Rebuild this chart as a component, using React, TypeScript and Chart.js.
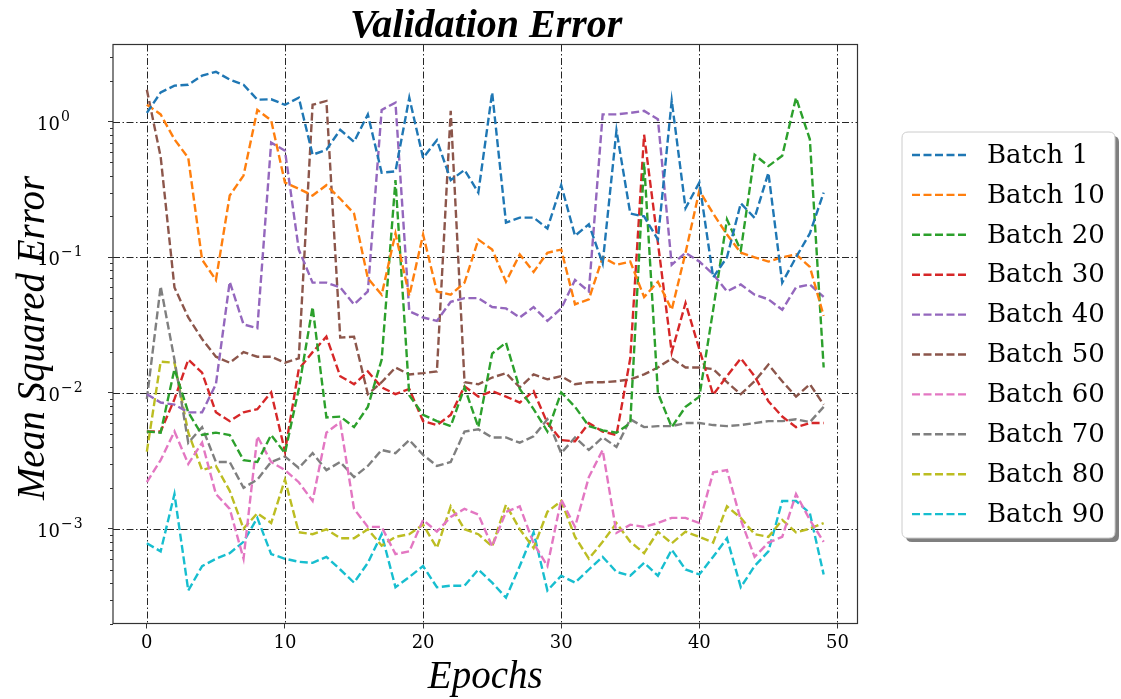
import React, { useEffect, useRef } from 'react';
import { Chart, registerables } from 'chart.js';

Chart.register(...registerables);

const epochs = [0,1,2,3,4,5,6,7,8,9,10,11,12,13,14,15,16,17,18,19,20,21,22,23,24,25,26,27,28,29,30,31,32,33,34,35,36,37,38,39,40,41,42,43,44,45,46,47,48,49];

const seriesNames = ['Batch 1','Batch 10','Batch 20','Batch 30','Batch 40','Batch 50','Batch 60','Batch 70','Batch 80','Batch 90'];
const seriesColors = ['#1f77b4','#ff7f0e','#2ca02c','#d62728','#9467bd','#8c564b','#e377c2','#7f7f7f','#bcbd22','#17becf'];

const batch1 = [1.16,1.64,1.84,1.87,2.18,2.33,2.04,1.87,1.45,1.46,1.33,1.5,0.57,0.62,0.87,0.71,1.13,0.42,0.43,1.5,0.54,0.73,0.37,0.44,0.30,1.64,0.18,0.196,0.196,0.163,0.34,0.144,0.175,0.09,0.86,0.21,0.20,0.135,1.43,0.23,0.355,0.071,0.1,0.25,0.195,0.42,0.065,0.1,0.15,0.30];
const batch10 = [1.33,1.13,0.74,0.54,0.096,0.068,0.285,0.40,1.22,1.02,0.355,0.32,0.285,0.34,0.27,0.21,0.07,0.053,0.15,0.052,0.147,0.056,0.053,0.065,0.135,0.114,0.066,0.105,0.078,0.108,0.114,0.045,0.049,0.1,0.088,0.093,0.051,0.066,0.041,0.108,0.31,0.21,0.147,0.108,0.1,0.093,0.1,0.105,0.085,0.037];
const batch20 = [0.0052,0.0051,0.015,0.0072,0.0049,0.0051,0.0049,0.0032,0.0031,0.0049,0.0036,0.0107,0.043,0.0066,0.0067,0.0056,0.0079,0.0176,0.37,0.0096,0.0069,0.0062,0.0057,0.011,0.0056,0.0195,0.0235,0.0107,0.0076,0.0052,0.0101,0.0079,0.0057,0.0053,0.0051,0.006,0.5,0.01,0.0056,0.0079,0.0094,0.041,0.19,0.112,0.57,0.47,0.56,1.5,0.74,0.0154];
const batch30 = [0.0052,0.0052,0.009,0.0176,0.0141,0.0072,0.0062,0.0072,0.0076,0.0101,0.0037,0.015,0.02,0.026,0.0133,0.0116,0.0144,0.011,0.0098,0.0107,0.0062,0.0058,0.0069,0.0112,0.0094,0.0103,0.0094,0.0085,0.0103,0.006,0.0045,0.0044,0.006,0.0052,0.0049,0.018,0.8,0.128,0.02,0.046,0.021,0.0097,0.0133,0.018,0.0133,0.0087,0.0067,0.0056,0.006,0.006];
const batch40 = [0.0098,0.0085,0.0082,0.0072,0.0072,0.0116,0.066,0.032,0.030,0.7,0.61,0.114,0.065,0.065,0.06,0.045,0.056,1.22,1.38,0.04,0.036,0.034,0.047,0.05,0.05,0.043,0.042,0.036,0.043,0.034,0.042,0.068,0.056,1.13,1.13,1.16,1.2,1.04,0.088,0.108,0.093,0.075,0.056,0.063,0.053,0.049,0.041,0.06,0.063,0.051];
const batch50 = [1.72,0.55,0.06,0.036,0.025,0.0185,0.0167,0.02,0.0185,0.0185,0.0167,0.018,1.33,1.42,0.0256,0.026,0.0098,0.012,0.0154,0.0137,0.014,0.0144,1.2,0.012,0.0116,0.013,0.014,0.011,0.0137,0.0126,0.0133,0.0116,0.012,0.012,0.0122,0.0126,0.0137,0.0154,0.018,0.0154,0.0154,0.015,0.012,0.0098,0.0122,0.0162,0.0122,0.0094,0.0116,0.0082];
const batch60 = [0.0022,0.0032,0.0052,0.0030,0.0043,0.0018,0.0014,0.0006,0.0048,0.0031,0.0027,0.0022,0.0016,0.0051,0.0061,0.0014,0.00103,0.00103,0.00065,0.00068,0.00116,0.00095,0.00122,0.0014,0.00127,0.00074,0.00133,0.00146,0.00078,0.00053,0.00164,0.00103,0.0024,0.0038,0.00093,0.00107,0.00103,0.0011,0.0012,0.0012,0.0011,0.0026,0.0027,0.00116,0.00062,0.00079,0.00087,0.0018,0.00116,0.0008];
const batch70 = [0.009,0.061,0.0176,0.0043,0.0056,0.0031,0.0031,0.002,0.0023,0.0031,0.0034,0.0028,0.0036,0.0027,0.0031,0.0024,0.0029,0.0038,0.0036,0.0045,0.0035,0.0029,0.0031,0.0052,0.0054,0.0047,0.0047,0.0043,0.0048,0.0064,0.0036,0.0047,0.0038,0.0047,0.004,0.0064,0.0056,0.0057,0.0057,0.006,0.006,0.0058,0.0057,0.0058,0.006,0.0062,0.0062,0.0064,0.0061,0.0079];
const batch80 = [0.0037,0.017,0.0167,0.0051,0.0027,0.0029,0.0019,0.001,0.0013,0.0011,0.0023,0.00094,0.00091,0.00099,0.00085,0.00085,0.00099,0.00075,0.00087,0.00091,0.00107,0.00072,0.00146,0.00099,0.00091,0.00074,0.0015,0.00099,0.00072,0.00133,0.0016,0.00087,0.0006,0.0008,0.0011,0.0008,0.00066,0.00095,0.00078,0.00095,0.00087,0.00079,0.00146,0.0012,0.00091,0.00087,0.00116,0.00094,0.001,0.0011];
const batch90 = [0.00078,0.00068,0.0018,0.00035,0.00053,0.0006,0.00066,0.0008,0.0012,0.00065,0.0006,0.00057,0.00056,0.00062,0.0005,0.0004,0.00056,0.00091,0.00037,0.00044,0.00053,0.00037,0.00038,0.00038,0.0005,0.0004,0.00031,0.00053,0.00094,0.00035,0.00045,0.0004,0.0005,0.00062,0.00048,0.00045,0.00056,0.00045,0.0007,0.0005,0.00046,0.00062,0.00085,0.00037,0.00053,0.00068,0.0016,0.0016,0.0013,0.00046];

const allSeries = [batch1, batch10, batch20, batch30, batch40, batch50, batch60, batch70, batch80, batch90];

const xTicks = [0, 10, 20, 30, 40, 50];
const yTicks = [0.001, 0.01, 0.1, 1];
const yTickBase = '10';
const yTickExponents = ['\u22123', '\u22122', '\u22121', '0'];

const titleText = 'Validation Error';
const xLabel = 'Epochs';
const yLabel = 'Mean Squared Error';

const W = 1121;
const H = 699;
const PLOT_L = 113;
const PLOT_R = 857.5;
const PLOT_T = 44.5;
const PLOT_B = 623.5;

const LINE_DASH = [8, 3.5];
const GRID_DASH = [7, 2.5, 1.5, 2.5];

const decorPlugin = {
  id: 'decor',
  beforeDatasetsDraw(chart: any) {
    const { ctx, chartArea } = chart;
    const xs = chart.scales.x;
    const ys = chart.scales.y;
    ctx.save();
    ctx.strokeStyle = 'rgba(0,0,0,0.85)';
    ctx.lineWidth = 1;
    ctx.setLineDash(GRID_DASH);
    xTicks.forEach((v) => {
      const px = Math.round(xs.getPixelForValue(v)) + 0.5;
      if (px < chartArea.left || px > chartArea.right) return;
      ctx.beginPath();
      ctx.moveTo(px, chartArea.top);
      ctx.lineTo(px, chartArea.bottom);
      ctx.stroke();
    });
    yTicks.forEach((v) => {
      const py = Math.round(ys.getPixelForValue(v)) + 0.5;
      ctx.beginPath();
      ctx.moveTo(chartArea.left, py);
      ctx.lineTo(chartArea.right, py);
      ctx.stroke();
    });
    ctx.restore();
  },
  afterDraw(chart: any) {
    const { ctx, chartArea } = chart;
    const ys = chart.scales.y;
    ctx.save();
    ctx.strokeStyle = '#333';
    ctx.lineWidth = 1;
    ctx.setLineDash([]);
    for (let d = -4; d <= 0; d++) {
      for (let k = 2; k <= 9; k++) {
        const v = k * Math.pow(10, d);
        const py = ys.getPixelForValue(v);
        if (py < chartArea.top || py > chartArea.bottom) continue;
        const yy = Math.round(py) + 0.5;
        ctx.beginPath();
        ctx.moveTo(chartArea.left - 3, yy);
        ctx.lineTo(chartArea.left, yy);
        ctx.stroke();
      }
    }
    // y tick labels with superscripts (left aligned as in the reference)
    ctx.fillStyle = '#000';
    ctx.textBaseline = 'alphabetic';
    ctx.textAlign = 'left';
    yTicks.forEach((v, i) => {
      const py = ys.getPixelForValue(v);
      const x0 = 37;
      ctx.font = '18px "DejaVu Serif"';
      const baseW = ctx.measureText(yTickBase).width;
      ctx.fillText(yTickBase, x0, py + 8);
      ctx.font = '14px "DejaVu Serif"';
      const e = yTickExponents[i];
      if (e.length > 1) {
        ctx.fillText(e[0], x0 + baseW + 1, py - 1);
        const mw = ctx.measureText(e[0]).width;
        ctx.fillText(e.slice(1), x0 + baseW + 1 + mw + 1, py - 1);
      } else {
        ctx.fillText(e, x0 + baseW + 1, py - 1);
      }
    });

    ctx.strokeStyle = '#333';
    ctx.lineWidth = 1.2;
    ctx.strokeRect(chartArea.left, chartArea.top, chartArea.right - chartArea.left, chartArea.bottom - chartArea.top);

    ctx.fillStyle = '#000';
    ctx.textAlign = 'center';
    ctx.textBaseline = 'alphabetic';
    const cx = (chartArea.left + chartArea.right) / 2;
    ctx.font = 'italic bold 40px "Liberation Serif"';
    ctx.fillText(titleText, cx + 1, 37);
    ctx.font = 'italic 39px "Liberation Serif"';
    ctx.fillText(xLabel, cx, 688);
    ctx.save();
    ctx.translate(44, (chartArea.top + chartArea.bottom) / 2 + 4);
    ctx.rotate(-Math.PI / 2);
    ctx.fillText(yLabel, 0, 0);
    ctx.restore();

    const bx = 902, by = 132, bw = 213, bh = 406, r = 6;
    const rr = (x: number, y: number, w: number, h: number) => {
      ctx.beginPath();
      ctx.moveTo(x + r, y);
      ctx.lineTo(x + w - r, y);
      ctx.quadraticCurveTo(x + w, y, x + w, y + r);
      ctx.lineTo(x + w, y + h - r);
      ctx.quadraticCurveTo(x + w, y + h, x + w - r, y + h);
      ctx.lineTo(x + r, y + h);
      ctx.quadraticCurveTo(x, y + h, x, y + h - r);
      ctx.lineTo(x, y + r);
      ctx.quadraticCurveTo(x, y, x + r, y);
      ctx.closePath();
    };
    rr(bx + 4, by + 4, bw, bh);
    ctx.fillStyle = 'rgba(0,0,0,0.5)';
    ctx.fill();
    rr(bx, by, bw, bh);
    ctx.fillStyle = '#fff';
    ctx.fill();
    ctx.strokeStyle = '#cccccc';
    ctx.lineWidth = 1;
    ctx.stroke();

    ctx.font = '26px "DejaVu Serif"';
    ctx.textAlign = 'left';
    ctx.textBaseline = 'middle';
    seriesNames.forEach((name, i) => {
      const yy = 155 + i * 39.9;
      ctx.strokeStyle = seriesColors[i];
      ctx.lineWidth = 2.4;
      ctx.setLineDash(LINE_DASH);
      ctx.beginPath();
      ctx.moveTo(912, yy);
      ctx.lineTo(968, yy);
      ctx.stroke();
      ctx.fillStyle = '#000';
      ctx.fillText(name, 987, yy + 1);
    });
    ctx.restore();
  },
};

export default function App() {
  const ref = useRef<HTMLCanvasElement | null>(null);
  useEffect(() => {
    if (!ref.current) return;
    const datasets = allSeries.map((vals, i) => ({
      label: seriesNames[i],
      data: vals.map((v, j) => ({ x: epochs[j], y: v })),
      borderColor: seriesColors[i],
      backgroundColor: seriesColors[i],
      borderWidth: 2.4,
      borderDash: LINE_DASH,
      pointRadius: 0,
      tension: 0,
      fill: false,
    }));
    const chart = new Chart(ref.current, {
      type: 'line',
      data: { datasets },
      options: {
        animation: false,
        responsive: false,
        devicePixelRatio: 1,
        layout: { padding: { left: 0, right: W - PLOT_R, top: PLOT_T, bottom: 0 } },
        plugins: { legend: { display: false }, title: { display: false }, tooltip: { enabled: false } },
        scales: {
          x: {
            type: 'linear',
            min: -2.45,
            max: 51.45,
            afterBuildTicks: (s: any) => { s.ticks = xTicks.map((v) => ({ value: v })); },
            afterFit: (s: any) => { s.height = H - PLOT_B; },
            grid: { drawOnChartArea: false, drawTicks: true, tickLength: 5, color: '#333', tickColor: '#333' },
            border: { display: false },
            ticks: { color: '#000', font: { family: 'DejaVu Serif', size: 18 }, padding: 4, maxRotation: 0, autoSkip: false },
          },
          y: {
            type: 'logarithmic',
            min: 0.0002,
            max: 3.7,
            afterBuildTicks: (s: any) => { s.ticks = yTicks.map((v) => ({ value: v, major: true })); },
            afterFit: (s: any) => { s.width = PLOT_L; },
            grid: { drawOnChartArea: false, drawTicks: true, tickLength: 5, color: '#333', tickColor: '#333' },
            border: { display: false },
            ticks: { display: true, color: 'rgba(0,0,0,0)', font: { family: 'DejaVu Serif', size: 18 }, autoSkip: false, callback: () => '' },
          },
        },
      },
      plugins: [decorPlugin],
    });
    return () => chart.destroy();
  }, []);
  return (
    <div style={{ position: 'fixed', left: 0, top: 0, width: W, height: H, background: '#fff' }}>
      <canvas ref={ref} width={W} height={H} style={{ width: W, height: H, display: 'block' }} />
    </div>
  );
}
